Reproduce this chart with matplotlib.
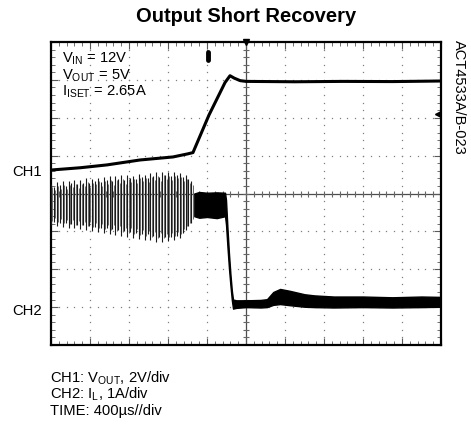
import numpy as np
import matplotlib
matplotlib.use("Agg")
import matplotlib.pyplot as plt

plt.rcParams['font.family'] = ['Liberation Sans', 'DejaVu Sans']
plt.rcParams['mathtext.fontset'] = 'custom'
plt.rcParams['mathtext.rm'] = 'Liberation Sans'

# scope settings: 400us/div horizontally, 8 vertical divisions
CH1_VOLTS_PER_DIV = 2.0
CH2_AMPS_PER_DIV = 1.0
CH1_ZERO_DIV = 0.57
CH2_ZERO_DIV = -3.12

# CH1: output voltage (V) vs time (us)
ch1_t = [-2000, -1700, -1426, -1087, -749, -600, -544, -380, -215, -164, -120, -60, 0,
         500, 1000, 1500, 2000]
ch1_v = [0.10, 0.22, 0.37, 0.63, 0.79, 0.95, 1.02, 3.00, 4.72, 5.08, 4.95, 4.82, 4.78,
         4.76, 4.78, 4.77, 4.80]

# CH2: inductor current during hiccup, one pulse every 30us (A)
ch2_pulse_t0 = -2000
ch2_pulse_period = 30
ch2_hiccup_hi = [3.38, 3.30, 3.42, 3.35, 3.45, 3.33, 3.44, 3.40, 3.48, 3.36,
                 3.47, 3.41, 3.52, 3.39, 3.50, 3.46, 3.54, 3.42, 3.55, 3.48,
                 3.57, 3.45, 3.58, 3.50, 3.60, 3.47, 3.61, 3.53, 3.59, 3.50,
                 3.63, 3.55, 3.62, 3.52, 3.66, 3.58, 3.68, 3.55, 3.70, 3.60,
                 3.69, 3.57, 3.68, 3.62, 3.66, 3.55, 3.60, 3.50, 3.45]
ch2_hiccup_lo = [2.30, 2.38, 2.27, 2.35, 2.24, 2.33, 2.22, 2.31, 2.20, 2.30,
                 2.18, 2.28, 2.15, 2.26, 2.13, 2.24, 2.10, 2.22, 2.08, 2.20,
                 2.05, 2.18, 2.02, 2.15, 2.00, 2.12, 1.97, 2.10, 1.95, 2.08,
                 1.93, 2.06, 1.90, 2.04, 1.88, 2.00, 1.85, 1.98, 1.84, 1.96,
                 1.86, 1.97, 1.90, 2.00, 1.95, 2.08, 2.15, 2.25, 2.35]

# CH2: inductor current envelope after the hiccup (A)
ch2_t = [-530, -480, -400, -300, -215, -205, -190, -175, -160, -145, -133, -100, 0,
         150, 215, 280, 350, 450, 600, 700, 900, 1200, 1500, 1800, 2000]
ch2_hi = [3.12, 3.16, 3.14, 3.15, 3.14, 2.95, 2.20, 1.55, 1.00, 0.55, 0.32, 0.30, 0.30,
          0.31, 0.33, 0.52, 0.60, 0.55, 0.46, 0.43, 0.40, 0.40, 0.38, 0.40, 0.39]
ch2_lo = [2.52, 2.48, 2.50, 2.47, 2.52, 2.30, 1.70, 1.15, 0.70, 0.30, 0.08, 0.10, 0.12,
          0.11, 0.12, 0.18, 0.20, 0.17, 0.13, 0.12, 0.11, 0.12, 0.11, 0.12, 0.13]


def ch1_div(v):
    return CH1_ZERO_DIV + np.asarray(v) / CH1_VOLTS_PER_DIV


def ch2_div(a):
    return CH2_ZERO_DIV + np.asarray(a) / CH2_AMPS_PER_DIV


fig = plt.figure(figsize=(4.71, 4.26), dpi=100)
ax = fig.add_axes([51 / 471, 1 - 345 / 426, 390 / 471, 303 / 426])
ax.set_xlim(-2000, 2000)
ax.set_ylim(-4, 4)

# graticule: dotted division lines, solid centre cross with small ticks
dots_y = np.arange(-4, 4.001, 0.2)
dots_x = np.arange(-2000, 2000.1, 80)
for k in range(-4, 5):
    if k != 0:
        ax.plot([k * 400] * len(dots_y), dots_y, ls='none', marker='s', ms=0.9,
                color='0.5', mew=0)
for k in range(-3, 4):
    if k != 0:
        ax.plot(dots_x, [k] * len(dots_x), ls='none', marker='s', ms=0.9,
                color='0.5', mew=0)
ax.axhline(0, color='0.3', lw=0.9, zorder=1)
ax.axvline(0, color='0.3', lw=0.9, zorder=1)
ax.plot(dots_x, np.zeros_like(dots_x), ls='none', marker='|', ms=5, color='0.4', mew=0.8)
ax.plot(np.zeros_like(dots_y), dots_y, ls='none', marker='_', ms=5, color='0.4', mew=0.8)

ax.set_xticks(np.arange(-2000, 2001, 400))
ax.set_xticks(dots_x, minor=True)
ax.set_yticks(np.arange(-4, 5, 1))
ax.set_yticks(dots_y, minor=True)
ax.tick_params(which='both', direction='in', top=True, right=True,
               labelbottom=False, labelleft=False, color='0.35')
ax.tick_params(which='major', length=5, width=0.8)
ax.tick_params(which='minor', length=3, width=0.6)
for s in ax.spines.values():
    s.set_linewidth(1.6)

# CH2 hiccup pulses: rising and falling edges
pulse_t = ch2_pulse_t0 + ch2_pulse_period * np.arange(len(ch2_hiccup_hi))
ax.vlines(pulse_t, ch2_div(ch2_hiccup_lo), ch2_div(ch2_hiccup_hi),
          colors='0.1', lw=0.8, zorder=3)
ax.vlines(pulse_t + ch2_pulse_period / 2, ch2_div(ch2_hiccup_lo) + 0.1,
          ch2_div(ch2_hiccup_hi) - 0.1, colors='0.4', lw=0.7, zorder=3)

# CH2 recovery band
ax.fill_between(ch2_t, ch2_div(ch2_lo), ch2_div(ch2_hi), color='black', lw=1.0,
                edgecolor='black', zorder=3)

# CH1 output voltage
ax.plot(ch1_t, ch1_div(ch1_v), color='black', lw=2.2, zorder=4)

# scope markers
ax.plot(0, 4, marker='v', ms=5, color='black', clip_on=False, zorder=5)
ax.plot([-390, -390], [3.73, 3.52], color='black', lw=3.5, solid_capstyle='round',
        zorder=5)
ax.plot(1965, 2.1, marker='<', ms=4, color='black', zorder=5)

ax.text(-1890, 3.55, r'V$_{\mathrm{IN}}$ = 12V', fontsize=10.6, va='center')
ax.text(-1890, 3.12, r'V$_{\mathrm{OUT}}$ = 5V', fontsize=10.6, va='center')
ax.text(-1890, 2.69, r'I$_{\mathrm{ISET}}$ = 2.65A', fontsize=10.6, va='center')

fig.text(12 / 471, 1 - 172 / 426, 'CH1', fontsize=10.6, va='center')
fig.text(12 / 471, 1 - 311 / 426, 'CH2', fontsize=10.6, va='center')

fig.text(246 / 471, 1 - 17 / 426, 'Output Short Recovery', fontsize=14.5,
         fontweight='bold', ha='center', va='center')
fig.text(459 / 471, 1 - 40 / 426, 'ACT4533A/B-023', fontsize=10.5, rotation=-90,
         ha='center', va='top')

fig.text(50 / 471, 1 - 378 / 426, r'CH1: V$_{\mathrm{OUT}}$, 2V/div', fontsize=10.6,
         va='center')
fig.text(50 / 471, 1 - 394 / 426, r'CH2: I$_{\mathrm{L}}$, 1A/div', fontsize=10.6,
         va='center')
fig.text(50 / 471, 1 - 411 / 426, 'TIME: 400µs//div', fontsize=10.6, va='center')

fig.savefig('out.png', dpi=100)
